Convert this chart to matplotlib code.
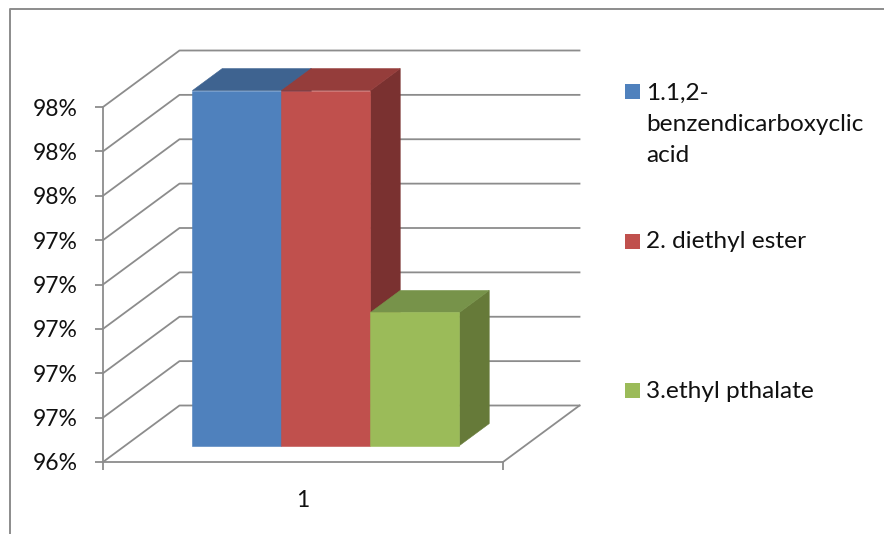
import matplotlib
matplotlib.use('Agg')
import matplotlib.pyplot as plt
from matplotlib.lines import Line2D
from matplotlib.patches import Rectangle

plt.rcParams['font.family'] = ['Lato', 'DejaVu Sans']

# Values
series_names = ['1.1,2-\nbenzendicarboxyclic\nacid', '2. diethyl ester', '3.ethyl pthalate']
series_values = [0.98, 0.98, 0.9675]
y_ticks = [0.96, 0.9625, 0.965, 0.9675, 0.97, 0.9725, 0.975, 0.9775, 0.98]
y_labels = ['96%', '97%', '97%', '97%', '97%', '97%', '98%', '98%', '98%']
category = '1'

face_colors = ['#4F81BD', '#C0504D', '#9BBB59']
top_colors = ['#3E6390', '#953D3B', '#77934A']
side_colors = ['#2F4B6E', '#7A3130', '#667A39']
grid_color = '#8C8C8C'
text_color = '#111111'

W, H = 884, 534
y_min, y_max = 0.96, 0.98
# oblique projection of the floor depth, as fractions of the front plane
depth_dx = 76.5 / 400
depth_dy = 56.5 / 355 * (y_max - y_min)


def project(x, y, d):
    """Move a point (x, y) back by depth d (0 = front, 1 = back wall)."""
    return x + d * depth_dx, y + d * depth_dy


def draw_bar(ax, x0, x1, value, d0, d1, face, top, side):
    # thin edge in the fill colour closes the antialiasing seam between faces
    pts = [(x1, y_min, d0), (x1, y_min, d1), (x1, value, d1), (x1, value, d0)]
    ax.fill(*zip(*[project(*p) for p in pts]), fc=side, ec=side, lw=0.4, clip_on=False, zorder=3)
    pts = [(x0, value, d0), (x0, value, d1), (x1, value, d1), (x1, value, d0)]
    ax.fill(*zip(*[project(*p) for p in pts]), fc=top, ec=top, lw=0.4, clip_on=False, zorder=3)
    pts = [(x0, y_min, d0), (x1, y_min, d0), (x1, value, d0), (x0, value, d0)]
    ax.fill(*zip(*[project(*p) for p in pts]), fc=face, ec=face, lw=0.4, clip_on=False, zorder=3)


fig = plt.figure(figsize=(W / 100, H / 100), dpi=100)
ax = fig.add_axes([103 / W, (H - 462) / H, 400 / W, 355 / H])
ax.patch.set_visible(False)
ax.set_xlim(0, 1)
ax.set_ylim(y_min, y_max)

# outer chart frame, only top and left are visible in the picture
fig.add_artist(Line2D([10 / W, 10 / W, 1], [0, 1 - 9 / H, 1 - 9 / H], color='#8C8C8C', lw=1.4))

# back wall gridlines and floor
for v in y_ticks:
    xs, ys = zip(project(0, v, 0), project(0, v, 1), project(1, v, 1))
    ax.plot(xs, ys, color=grid_color, lw=1.3, clip_on=False, zorder=1)
xs, ys = zip(project(1, y_min, 0), project(1, y_min, 1))
ax.plot(xs, ys, color=grid_color, lw=1.3, clip_on=False, zorder=1)

# bars
bar_start, bar_width = 0.168, 0.2225
for i, value in enumerate(series_values):
    x0 = bar_start + i * bar_width
    draw_bar(ax, x0, x0 + bar_width, value, 0.29, 0.68,
             face_colors[i], top_colors[i], side_colors[i])

for name in ['top', 'right']:
    ax.spines[name].set_visible(False)
for name in ['left', 'bottom']:
    ax.spines[name].set_color(grid_color)
    ax.spines[name].set_linewidth(1.3)

ax.set_yticks(y_ticks)
ax.set_yticklabels(y_labels)
ax.tick_params(axis='y', length=6, width=1.3, color=grid_color, pad=12,
               labelsize=16.5, labelcolor=text_color)
ax.set_xticks([0, 1])
ax.set_xticklabels(['', ''])
ax.tick_params(axis='x', length=6, width=1.3, color=grid_color)
ax.set_xticks([0.5], minor=True)
ax.set_xticklabels([category], minor=True)
ax.tick_params(axis='x', which='minor', length=0, pad=20, labelsize=16.5, labelcolor=text_color)

# legend
legend_square_y = [91.5, 241, 390]
legend_text_y = [124.5, 241, 391]
for name, color, ys, yt in zip(series_names, face_colors, legend_square_y, legend_text_y):
    fig.add_artist(Rectangle((625 / W, 1 - (ys + 7.5) / H), 15 / W, 15 / H,
                             transform=fig.transFigure, color=color, lw=0))
    fig.text(646 / W, 1 - yt / H, name, ha='left', va='center', fontsize=17.6,
             color=text_color, linespacing=1.57)

fig.savefig('out.png', dpi=100)
